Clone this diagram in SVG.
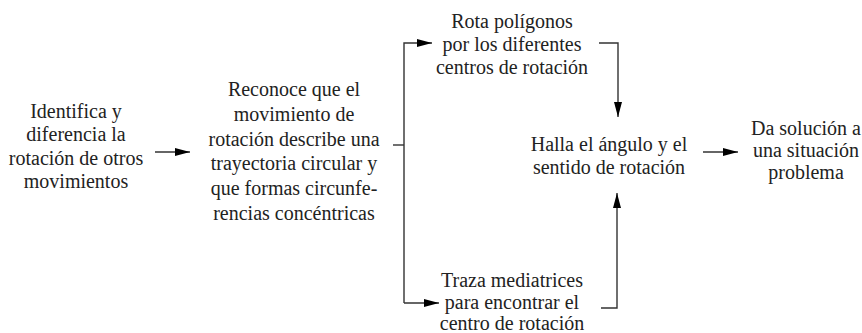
<svg xmlns="http://www.w3.org/2000/svg" width="862" height="333" viewBox="0 0 862 333">
<defs>
<marker id="ah" markerWidth="15" markerHeight="8" refX="15" refY="4" orient="auto" markerUnits="userSpaceOnUse">
<path d="M0,0 L15,4 L0,8 Z" fill="#000"/>
</marker>
<style>
.t text{font-size:20px;fill:#222;text-anchor:middle}
.c{fill:none;stroke:#333;stroke-width:1.4}
</style>
</defs>
<rect width="862" height="333" fill="#fff"/>
<g class="t" font-family="'Liberation Serif', 'Times New Roman', serif">
<g id="n1"><text x="76" y="118">Identifica y</text><text x="76" y="141">diferencia la</text><text x="76" y="165">rotación de otros</text><text x="76" y="188">movimientos</text></g>
<g id="n2"><text x="294" y="96">Reconoce que el</text><text x="294" y="121">movimiento de</text><text x="294" y="146">rotación describe una</text><text x="294" y="170">trayectoria circular y</text><text x="294" y="195">que formas circunfe-</text><text x="294" y="220">rencias concéntricas</text></g>
<g id="n3"><text x="512" y="28">Rota polígonos</text><text x="512" y="51">por los diferentes</text><text x="512" y="74">centros de rotación</text></g>
<g id="n4"><text x="512" y="287">Traza mediatrices</text><text x="512" y="309">para encontrar el</text><text x="512" y="330">centro de rotación</text></g>
<g id="n5"><text x="609" y="151">Halla el ángulo y el</text><text x="609" y="174">sentido de rotación</text></g>
<g id="n6"><text x="806" y="135">Da solución a</text><text x="806" y="157">una situación</text><text x="806" y="179">problema</text></g>
</g>
<g id="connectors">
<path class="c" d="M155,152 H190" marker-end="url(#ah)"/>
<path class="c" d="M393,145 H404"/>
<path class="c" d="M404,303 V43 H432" marker-end="url(#ah)"/>
<path class="c" d="M404,303 H439" marker-end="url(#ah)"/>
<path class="c" d="M599,43 H618 V117" marker-end="url(#ah)"/>
<path class="c" d="M601,308 H617 V193" marker-end="url(#ah)"/>
<path class="c" d="M703,152 H738" marker-end="url(#ah)"/>
</g>
</svg>
